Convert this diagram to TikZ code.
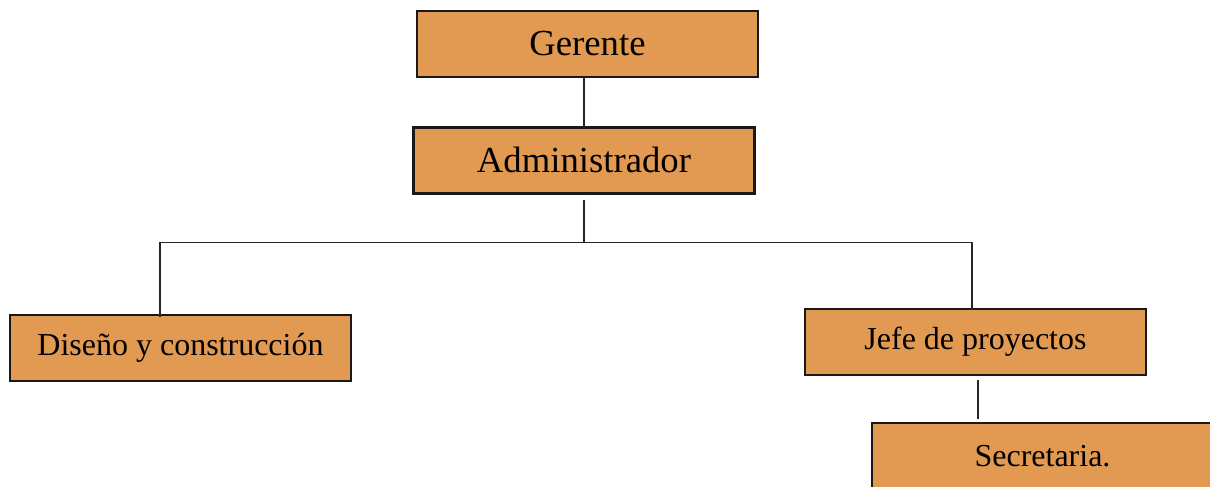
\documentclass[tikz,border=0pt]{standalone}
\usepackage{fontspec}
\setmainfont{Liberation Serif}
\usetikzlibrary{positioning}
\definecolor{cargofill}{RGB}{226,154,82}

\begin{document}
\begin{tikzpicture}[x=1pt, y=1pt,
        puesto/.style={rectangle, draw=black!90, fill=cargofill, line width=2.4pt, minimum width=341pt, minimum height=66pt, inner sep=0pt},
        jefatura/.style={puesto, font=\fontsize{36.7}{40}\selectfont},
        area/.style={puesto, font=\fontsize{32}{36}\selectfont},
        enlace/.style={draw=black!85, line width=1.3pt},
    ]
    \useasboundingbox (0,0) rectangle (1210,-487);
    \node[jefatura] (gerente) at (587.5,-44) {Gerente};
    \node[jefatura] (admin) [below=48pt of gerente, xshift=-3.5pt] {Administrador};
    \node[area] (diseno) [below=119pt of admin, xshift=-403.5pt] {Diseño y construcción};
    \node[area] (jefe) [below=113pt of admin, xshift=391.5pt] {Jefe de proyectos};
    \node[area] (secretaria) [below=46pt of jefe, xshift=67pt] {Secretaria.};

    \coordinate (bus) at ([yshift=-48pt]admin.south);
    \coordinate (disenoTop) at ([xshift=-20.5pt,yshift=-3pt]diseno.north);
    \coordinate (jefeTop) at ([xshift=-3.5pt,yshift=-2pt]jefe.north);

    \path[enlace] (gerente.south -| admin.north) -- (admin.north);
    \path[enlace] ([yshift=-5pt]admin.south) -- (bus);
    \path[enlace] (disenoTop) |- (bus) -| (jefeTop);
    \path[enlace] ([xshift=2.5pt,yshift=-4pt]jefe.south) -- ([xshift=-64.5pt,yshift=3pt]secretaria.north);
\end{tikzpicture}
\end{document}
